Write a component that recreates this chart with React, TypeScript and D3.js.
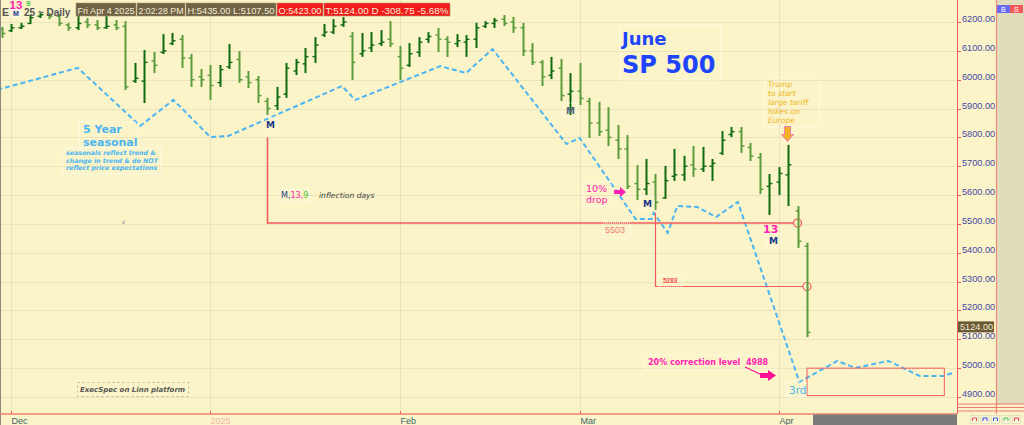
import * as d3 from "d3";

// bar index 0 = Nov 29 2024 ... 85 = Apr 4 2025 (ES June contract, daily)
const highs = [
  6183, 6193, 6197, 6224, 6231, 6231, 6228, 6197, 6224, 6214, 6207, 6221, 6207, 6203, 6058, 6103, 6096, 6158, 6162, 6155, 6089, 6037,
  6051, 6051, 6124, 6099, 6030, 6013, 5937, 5975, 6058, 6072, 6110, 6148, 6193, 6210, 6217, 6165, 6162, 6165, 6172, 6203,
  6117, 6127, 6148, 6165, 6179, 6151, 6158, 6155, 6197, 6203, 6214, 6224, 6217, 6197, 6127, 6068, 6079, 6072, 6023,
  6058, 5937, 5923, 5905, 5843, 5808, 5704, 5725, 5673, 5701, 5760, 5736, 5770, 5767, 5725, 5822, 5836, 5836, 5781, 5746, 5673,
  5697, 5774, 5562, 5435,
];
const lows = [
  6145, 6165, 6176, 6193, 6214, 6210, 6186, 6169, 6172, 6179, 6172, 6176, 6172, 5964, 5989, 5919, 6023, 6089, 6120, 6041, 5975, 5975,
  5930, 5975, 6037, 5989, 5971, 5919, 5878, 5895, 5937, 6016, 6023, 6058, 6148, 6158, 6183, 5999, 6079, 6096, 6117, 6113,
  5999, 6044, 6079, 6127, 6096, 6079, 6113, 6079, 6110, 6179, 6179, 6186, 6162, 6082, 6051, 5978, 6002, 5926, 5878,
  5912, 5798, 5805, 5770, 5725, 5621, 5583, 5600, 5548, 5587, 5649, 5649, 5663, 5680, 5649, 5739, 5801, 5746, 5718, 5604, 5531,
  5600, 5562, 5417, 5107.5,
];
const opens = [
  6175, 6170, 6180, 6195, 6220, 6225, 6220, 6190, 6180, 6200, 6190, 6180, 6190, 6185, 5995, 5995, 6065, 6095, 6125, 6140, 6075, 6010,
  6015, 5990, 6045, 6070, 6010, 6000, 5925, 5910, 5950, 6030, 6055, 6080, 6155, 6165, 6190, 6150, 6090, 6110, 6125, 6140,
  6080, 6050, 6095, 6140, 6155, 6140, 6125, 6130, 6140, 6185, 6195, 6210, 6200, 6180, 6100, 6060, 6015, 6040, 5950,
  5960, 5925, 5850, 5825, 5790, 5760, 5640, 5620, 5645, 5590, 5665, 5670, 5705, 5690, 5700, 5745, 5810, 5820, 5765, 5730, 5630,
  5645, 5670, 5545, 5423,
];
const closes = [
  6160, 6180, 6185, 6215, 6225, 6220, 6195, 6180, 6195, 6190, 6180, 6185, 6180, 5975, 6005, 6060, 6050, 6100, 6135, 6075, 6000, 6000,
  5980, 6035, 6060, 6000, 5990, 5945, 5900, 5940, 6040, 6060, 6080, 6120, 6165, 6185, 6200, 6060, 6100, 6120, 6130, 6125,
  6040, 6090, 6130, 6150, 6140, 6130, 6135, 6140, 6180, 6195, 6205, 6195, 6180, 6100, 6060, 6010, 6030, 5945, 5960,
  5935, 5850, 5820, 5800, 5760, 5630, 5620, 5640, 5575, 5650, 5670, 5700, 5690, 5700, 5710, 5790, 5820, 5770, 5735, 5620, 5640,
  5675, 5705, 5440, 5124,
];

// month starts (bar index) and their labels
const monthIdx = [1, 22, 42, 61, 82];
const monthLabels = ["Dec", "2025", "Feb", "Mar", "Apr"];

const priceTicks = [4900, 5000, 5100, 5200, 5300, 5400, 5500, 5600, 5700, 5800, 5900, 6000, 6100, 6200];

// 5 year seasonal (turning points, bar index / price scale)
const seasonalIdx = [-0.5, 8, 14.6, 18.1, 22, 23.9, 35.9, 37.3, 46.3, 49, 51.8, 59.6, 61, 66.9, 68.6, 68.8, 70.3, 71.3, 73.4, 75.4, 77.7, 84.2, 88.2, 90.1, 93.6, 96.9, 99.4, 100.4];
const seasonalVal = [5965, 6041, 5840, 5930, 5801, 5805, 5978, 5930, 6047, 6023, 6106, 5777, 5798, 5517, 5517, 5538, 5469, 5562, 5559, 5524, 5576, 4952, 5025, 5001, 5025, 4973, 4973, 4983];

const level1 = 5503;
const level2 = 5283;
const lastPrice = 5124;

const BG = "#faf4c8";
const GRID = "#ebe3bb";
const RED = "#f25c5c";
const BLUE = "#4cb4f2";
const MAG = "#ff22b4";
const NAVY = "#1b3a8c";
const DV = "'DejaVu Sans', sans-serif";

const x = d3.scaleLinear().domain([0, 85]).range([2, 807]);
const y = d3.scaleLinear().domain([4900, 6200]).range([397, 22]);

const seasonalLine = d3
  .line<number>()
  .x((d) => x(d))
  .y((_, i) => y(seasonalVal[i]));

const Box = ({ x0, y0, w, h, stroke = "#ffffff" }: any) => (
  <rect x={x0} y={y0} width={w} height={h} fill="none" stroke={stroke} strokeWidth={1} strokeDasharray="1,1" opacity={0.9} />
);

export default function App() {
  const px = (i: number) => Math.round(x(i)) + 0.5;
  const hdr = [
    { x0: 76, w: 60, t: "Fri Apr 4 2025", bg: "#6f6245" },
    { x0: 137, w: 48, t: "2:02:28 PM", bg: "#6f6245" },
    { x0: 186, w: 90, t: "H:5435.00  L:5107.50", bg: "#6f6245" },
    { x0: 277, w: 46, t: "O:5423.00", bg: "#f21a1a" },
    { x0: 324, w: 126, t: "T:5124.00 D   -308.75  -5.68%", bg: "#f21a1a" },
  ];
  return (
    <svg width={1024} height={425} style={{ position: "absolute", left: 0, top: 0 }} fontFamily="'Liberation Sans', Arial, sans-serif">
      <defs>
        <clipPath id="plot">
          <rect x={1} y={0} width={956} height={414} />
        </clipPath>
      </defs>
      <rect x={0} y={0} width={1024} height={425} fill={BG} />

      {/* grid */}
      {priceTicks.map((p) => (
        <line key={p} x1={1} x2={957} y1={Math.round(y(p)) + 0.5} y2={Math.round(y(p)) + 0.5} stroke={GRID} strokeWidth={1} />
      ))}
      {monthIdx.map((m) => (
        <line key={m} x1={px(m)} x2={px(m)} y1={0} y2={414} stroke={GRID} strokeWidth={1} />
      ))}

      <g clipPath="url(#plot)">
        {/* seasonal */}
        <path d={seasonalLine(seasonalIdx) || ""} fill="none" stroke={BLUE} strokeWidth={2} strokeDasharray="5,3" />

        {/* level lines */}
        <path d={`M${px(28)},${y(5800)}V${y(level1)}H${x(84) - 4}`} fill="none" stroke={RED} strokeWidth={1.6} />
        <circle cx={x(84)} cy={y(level1)} r={4} fill="none" stroke={RED} strokeWidth={1.2} />
        <path d={`M${px(69)},${y(5540)}V${y(level2)}H${x(85) - 4}`} fill="none" stroke={RED} strokeWidth={1.2} />
        <circle cx={x(85)} cy={y(level2)} r={4} fill="none" stroke={RED} strokeWidth={1.2} />
        <rect x={x(85)} y={y(5000)} width={x(99.5) - x(85)} height={y(4905) - y(5000)} fill="none" stroke={RED} strokeWidth={1} />

        {/* OHLC bars */}
        {highs.map((h, i) => {
          const c = closes[i] >= opens[i] ? "#0f6a12" : "#5a9c3c";
          const cx = px(i);
          return (
            <g key={i} stroke={c} strokeWidth={2}>
              <line x1={cx} x2={cx} y1={y(h)} y2={y(lows[i])} />
              <line x1={cx - 3} x2={cx} y1={y(opens[i])} y2={y(opens[i])} strokeWidth={1.4} />
              <line x1={cx} x2={cx + 3} y1={y(closes[i])} y2={y(closes[i])} strokeWidth={1.4} />
            </g>
          );
        })}
      </g>

      {/* header */}
      <text x={2} y={16} fontSize={10.5} fontWeight="bold" fill="#555">E</text>
      <text x={24} y={16} fontSize={10} fontWeight="bold" fill="#555">25 ~ Daily</text>
      <text x={9.5} y={9} fontSize={11.5} fontWeight="bold" fill={MAG}>13</text>
      <text x={26} y={6} fontSize={8} fontWeight="bold" fill="#3cc83c">9</text>
      <rect x={11.5} y={9.5} width={9} height={7} fill="#f4f0dc" stroke="#ffffff" strokeWidth={0.6} />
      <text x={13} y={16} fontSize={7} fontWeight="bold" fill={NAVY}>M</text>
      {hdr.map((b) => (
        <g key={b.t}>
          <rect x={b.x0} y={3} width={b.w} height={13} fill={b.bg} stroke="#a89870" strokeWidth={0.6} />
          <text x={b.x0 + 1.5} y={13.5} fontSize={9.6} fill="#f6efd8" textLength={b.w - 3} lengthAdjust="spacingAndGlyphs">{b.t}</text>
        </g>
      ))}

      {/* June SP 500 */}
      <Box x0={620} y0={25} w={101} h={55} />
      <text x={622} y={45} fontSize={18} fontWeight="bold" fontFamily={DV} fill="#1f45fc">June</text>
      <text x={622} y={73} fontSize={24} fontWeight="bold" fontFamily={DV} fill="#1f45fc">SP 500</text>

      {/* Trump note */}
      <Box x0={765} y0={77} w={54} h={50} />
      {["Trump", "to start", "large tariff", "hikes on", "Europe"].map((t, i) => (
        <text key={t} x={768} y={87 + i * 9} fontSize={7.6} fontStyle="italic" fontFamily={DV} fill="#f2b424">{t}</text>
      ))}
      <path d="M784.5,126.5h6v8h3l-6,7l-6,-7h3z" fill="#f7b024" stroke="#e266c8" strokeWidth={0.8} />

      {/* 5 year seasonal */}
      <Box x0={79} y0={122} w={59} h={26} />
      <text x={83} y={133} fontSize={11} fontWeight="bold" fontFamily={DV} fill={BLUE}>5 Year</text>
      <text x={83} y={146} fontSize={11} fontWeight="bold" fontFamily={DV} fill={BLUE}>seasonal</text>
      <Box x0={62} y0={148} w={99} h={26} />
      {["seasonals reflect trend &", "change in trend & do NOT", "reflect price expectations"].map((t, i) => (
        <text key={t} x={66} y={155 + i * 7.5} fontSize={6.3} fontWeight="bold" fontStyle="italic" fontFamily={DV} fill={BLUE}>{t}</text>
      ))}

      {/* M labels */}
      {[
        { xx: 266, yy: 128, c: NAVY },
        { xx: 566, yy: 114, c: "#56657e" },
        { xx: 643, yy: 207, c: NAVY },
        { xx: 769, yy: 244, c: NAVY },
      ].map((m, i) => (
        <g key={i}>
          <Box x0={m.xx - 3} y0={m.yy - 11} w={14} h={14} />
          <text x={m.xx} y={m.yy} fontSize={9} fontWeight="bold" fontFamily={DV} fill={m.c}>M</text>
        </g>
      ))}
      <text x={763} y={233} fontSize={11} fontWeight="bold" fontFamily={DV} fill={MAG}>13</text>

      {/* inflection legend */}
      <Box x0={278} y0={189} w={31} h={13} />
      <text x={281} y={198} fontSize={8} fontFamily={DV}>
        <tspan fill={NAVY}>M,</tspan>
        <tspan fill={MAG}>13,</tspan>
        <tspan fill="#3cc83c">9</tspan>
      </text>
      <text x={319} y={198} fontSize={7.6} fontStyle="italic" fontFamily={DV} fill="#444">inflection days</text>
      <text x={122} y={224} fontSize={5} fill="#888">d</text>

      {/* 10% drop */}
      <Box x0={583} y0={182} w={28} h={24} />
      <text x={586} y={192} fontSize={9.5} fontFamily={DV} fill={MAG}>10%</text>
      <text x={586} y={203} fontSize={9.5} fontFamily={DV} fill={MAG}>drop</text>
      <path d="M614,190h6v-3l6,5l-6,5v-3h-6z" fill={MAG} />

      {/* level labels */}
      <Box x0={603} y0={223} w={27} h={15} />
      <text x={605} y={233} fontSize={9} fill="#f07a78">5503</text>
      <Box x0={659} y0={275} w={24} h={12} />
      <text x={663} y={283} fontSize={6.5} fontWeight="bold" fill="#f05050">5283</text>

      {/* 20% correction */}
      <Box x0={645} y0={355} w={131} h={14} />
      <text x={648} y={365} fontSize={8} fontWeight="bold" fontFamily={DV} fill={MAG} xmlSpace="preserve">20% correction level  4988</text>
      <line x1={745} y1={367} x2={762} y2={375} stroke="#ff1096" strokeWidth={1.2} />
      <path d="M760,373h8v-3l8,5.5l-8,5.5v-3h-8z" fill="#ff1096" />
      <Box x0={787} y0={382} w={19} h={15} />
      <text x={789} y={394} fontSize={10.5} fontFamily={DV} fill={BLUE}>3rd</text>

      {/* ExecSpec */}
      <rect x={77.5} y={382.5} width={111} height={14} fill="none" stroke="#999" strokeWidth={0.7} strokeDasharray="2,3" />
      <text x={80} y={392} fontSize={7} fontWeight="bold" fontStyle="italic" fontFamily={DV} fill="#585858">ExecSpec on Linn platform</text>

      {/* frame */}
      <line x1={0.5} x2={0.5} y1={0} y2={425} stroke="#8a8a80" />
      <line x1={0} x2={957} y1={414} y2={414} stroke="#f28070" strokeWidth={1.5} />
      <rect x={813} y={414.5} width={144} height={10.5} fill="#7a7a7a" />
      <line x1={957.5} x2={957.5} y1={0} y2={414} stroke={RED} strokeWidth={1} />
      <rect x={997} y={0} width={27} height={404} fill="#e1dcbc" />
      <line x1={996.5} x2={996.5} y1={0} y2={414} stroke="#f08a7a" strokeWidth={1.2} />
      <rect x={997} y={5} width={13} height={8} fill="#6a6af0" />
      <text x={1001} y={12} fontSize={7} fill="#fff">B</text>
      <rect x={1010} y={5} width={13} height={8} fill="#f25a5a" />
      <text x={1014} y={12} fontSize={7} fill="#fff">S</text>
      {[404, 407.5, 411].map((yy) => (
        <line key={yy} x1={957} x2={1024} y1={yy} y2={yy} stroke={RED} strokeWidth={0.8} />
      ))}
      {["#f04040", "#3040e0", "#3060e0", "#40c040", "#f04040"].map((c, i) => (
        <g key={i}>
          <rect x={970.5 + i * 10.5} y={415.5} width={8} height={8} fill="#f8f4e0" stroke="#d0c8a8" strokeWidth={0.5} />
          <path d={`M${972.5 + i * 10.5},${421}v-3h4v3`} fill="none" stroke={c} strokeWidth={1} />
        </g>
      ))}

      {/* x axis */}
      {monthIdx.map((m, i) => (
        <g key={m}>
          <line x1={px(m)} x2={px(m)} y1={411} y2={414} stroke={RED} />
          <text x={px(m)} y={424} fontSize={9} fill={i === 1 ? "#f4b4ac" : "#3e6468"}>{monthLabels[i]}</text>
        </g>
      ))}

      {/* y axis */}
      {priceTicks.map((p) => (
        <g key={p}>
          <line x1={957} x2={961} y1={Math.round(y(p)) + 0.5} y2={Math.round(y(p)) + 0.5} stroke={RED} />
          <text x={962} y={y(p)} fontSize={9.2} fill="#4646a8">{p.toFixed(2)}</text>
        </g>
      ))}
      <rect x={958} y={y(lastPrice) - 11} width={36} height={11} fill="#6b5a36" />
      <text x={960} y={y(lastPrice) - 2.5} fontSize={9.2} fill="#f2ead0">{lastPrice.toFixed(2)}</text>
    </svg>
  );
}
